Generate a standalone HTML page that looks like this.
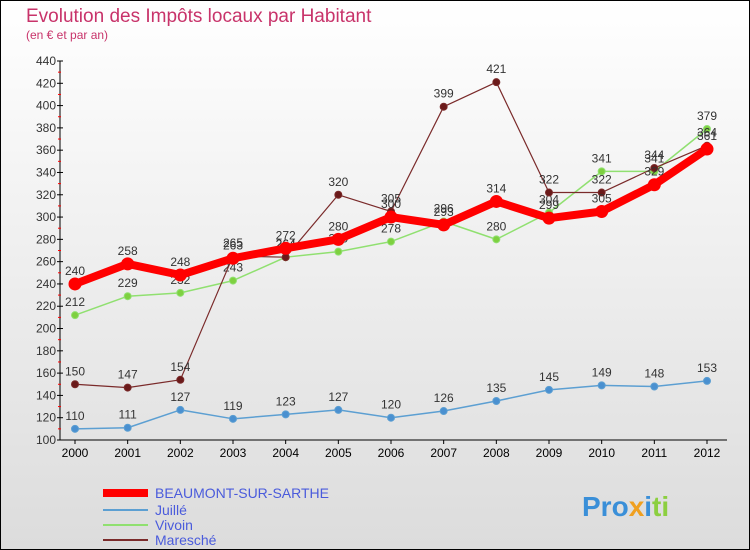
<!DOCTYPE html>
<html><head><meta charset="utf-8"><style>
body{margin:0;width:750px;height:550px;overflow:hidden;font-family:"Liberation Sans",sans-serif}
svg{display:block}
</style></head><body>
<svg id="c" width="750" height="550" xmlns="http://www.w3.org/2000/svg">
<defs><linearGradient id="bg" x1="0" y1="0" x2="0" y2="1"><stop offset="0" stop-color="#ffffff"/><stop offset="1" stop-color="#dcdcdc"/></linearGradient></defs>
<rect x="0.5" y="0.5" width="749" height="549" fill="url(#bg)" stroke="#000"/>
<text x="26" y="22" font-size="19" fill="#c8336a">Evolution des Impôts locaux par Habitant</text>
<text x="26" y="39" font-size="12" fill="#c8336a">(en € et par an)</text>
<g id="axes"></g><g id="series"></g>
<g font-size="14" fill="#4a5bdc">
<line x1="103" y1="493" x2="148" y2="493" stroke="#f00" stroke-width="8"/><text x="155" y="498">BEAUMONT-SUR-SARTHE</text>
<line x1="103" y1="510" x2="148" y2="510" stroke="#5c9fd2" stroke-width="2"/><text x="155" y="515">Juillé</text>
<line x1="103" y1="525" x2="148" y2="525" stroke="#90e070" stroke-width="2"/><text x="155" y="530">Vivoin</text>
<line x1="103" y1="540" x2="148" y2="540" stroke="#7a2a2a" stroke-width="2"/><text x="155" y="545">Maresché</text>
</g>
<text x="582" y="516" font-size="28" font-weight="bold"><tspan fill="#3a8fd8">Pro</tspan><tspan fill="#f0a020">x</tspan><tspan fill="#3a8fd8">i</tspan><tspan fill="#8ccf40">ti</tspan></text>
</svg>
<script>
const years=["2000","2001","2002","2003","2004","2005","2006","2007","2008","2009","2010","2011","2012"];
const yTicks=[100,120,140,160,180,200,220,240,260,280,300,320,340,360,380,400,420,440];
const beaumont=[240,258,248,263,272,280,300,293,314,299,305,329,361];
const juille=[110,111,127,119,123,127,120,126,135,145,149,148,153];
const vivoin=[212,229,232,243,264,269,278,296,280,304,341,341,379];
const maresche=[150,147,154,265,264,320,305,399,421,322,322,344,364];
const NS="http://www.w3.org/2000/svg";
const x0=75,x1=707,yb=440,yt=61,vmin=100,vmax=440;
const X=i=>x0+i*(x1-x0)/(years.length-1);
const Y=v=>yb-(v-vmin)*(yb-yt)/(vmax-vmin);
function mk(t,a,p){const e=document.createElementNS(NS,t);for(const k in a)e.setAttribute(k,a[k]);p.appendChild(e);return e;}
const ax=document.getElementById('axes');
let l=mk('line',{x1:60,y1:yt,x2:60,y2:yb,stroke:'#000'},ax);


l=mk('line',{x1:60,y1:yb,x2:x1+20,y2:yb,stroke:'#000'},ax);


yTicks.forEach((v,i)=>{const y=Y(v);mk('line',{x1:57,y1:y,x2:63,y2:y,stroke:'#000'},ax);
 if(i<yTicks.length-1)mk('line',{x1:58,y1:y-(Y(100)-Y(110)),x2:61,y2:y-(Y(100)-Y(110)),stroke:'#f00'},ax);
 const t=mk('text',{x:56,y:y+4,'text-anchor':'end','font-size':12,fill:'#333'},ax);t.textContent=v;
 
 });
years.forEach((yr,i)=>{const x=X(i);mk('line',{x1:x,y1:yb,x2:x,y2:yb+4,stroke:'#000'},ax);
 const t=mk('text',{x:x,y:yb+17,'text-anchor':'middle','font-size':12,fill:'#000'},ax);t.textContent=yr;
 
 });
const sg=document.getElementById('series');
function draw(d,name,col,w,r,dot){
 const g=mk('g',{},sg);
 
 
 mk('polyline',{points:d.map((v,i)=>X(i)+','+Y(v)).join(' '),fill:'none',stroke:col,'stroke-width':w,'stroke-linejoin':'round'},g);
 d.forEach((v,i)=>{const c=mk('circle',{cx:X(i),cy:Y(v),r:r,fill:dot,stroke:col,'stroke-width':1},g);
  
  
  const t=mk('text',{x:X(i),y:Y(v)-9,'text-anchor':'middle','font-size':12,fill:'#333'},g);t.textContent=v;});
}
draw(juille,'series-juille','#5c9fd2',1.5,3.5,'#4a90d0');
draw(vivoin,'series-vivoin','#90e070',1.5,3.5,'#7ed040');
draw(maresche,'series-maresche','#7a2a2a',1.2,3.5,'#6a1a1a');
draw(beaumont,'series-beaumont','#f00',8,6,'#f00');
</script>
</body></html>
